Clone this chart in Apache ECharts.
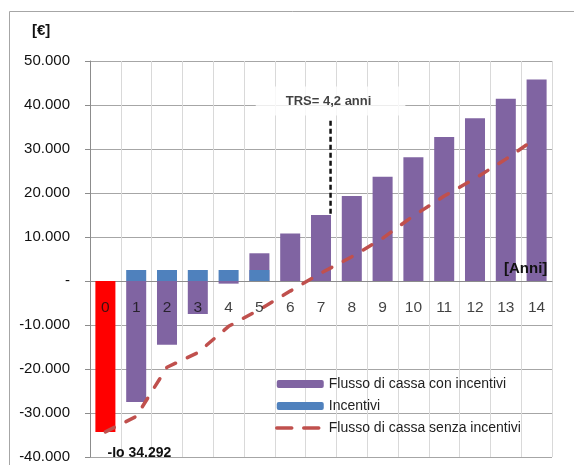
<!DOCTYPE html>
<html>
<head>
<meta charset="utf-8">
<script src="https://cdn.jsdelivr.net/npm/echarts@6/dist/echarts.min.js"></script>
<style>
  html, body { margin: 0; padding: 0; background: #fff; }
  #chart { width: 574px; height: 465px; }
</style>
</head>
<body>
<div id="chart"></div>
<script>
// anni
const anni = ['0', '1', '2', '3', '4', '5', '6', '7', '8', '9', '10', '11', '12', '13', '14'];
// flusso di cassa con incentivi (anno 0 = investimento iniziale)
const flussoConIncentivi = [-34292, -27500, -14500, -7500, -600, 6300, 10800, 15000, 19300, 23700, 28100, 32700, 37000, 41400, 45800];
// incentivi annui
const incentivi = [null, 2500, 2500, 2500, 2500, 2500, null, null, null, null, null, null, null, null, null];
// flusso di cassa senza incentivi
const flussoSenzaIncentivi = [-34292, -30800, -19600, -16300, -10300, -6500, -2300, 1800, 5500, 9700, 14800, 19300, 23300, 27700, 32500];
// linea TRS (posizione sull'asse anni, valori in euro)
const trsX = 7.31;
const trsY = [15300, 36600];
const trsLabel = 'TRS= 4,2 anni';
const ioLabel = '-Io 34.292';

const FONT = 'Liberation Sans';

function fmt(v) {
  if (v === 0) return '-';
  const s = Math.abs(v).toString().replace(/\B(?=(\d{3})+(?!\d))/g, '.');
  return (v < 0 ? '-' : '') + s;
}

const chart = echarts.init(document.getElementById('chart'));

const barData = flussoConIncentivi.map((v, i) => {
  if (i === 0) {
    return {
      value: v,
      itemStyle: {color: '#ff0000'},
      label: {
        show: true,
        position: 'bottom',
        distance: 14,
        offset: [34, 0],
        formatter: ioLabel,
        fontFamily: FONT,
        fontSize: 14,
        fontWeight: 'bold',
        color: '#111'
      }
    };
  }
  return v;
});

chart.setOption({
  animation: false,
  textStyle: {fontFamily: FONT},
  grid: {left: 90, right: 22, top: 61, bottom: 8, containLabel: false, outerBoundsMode: 'none'},
  graphic: [
    {type: 'rect', shape: {x: 9.5, y: 11.5, width: 580, height: 470}, style: {fill: 'none', stroke: '#a6a6a6', lineWidth: 1}, silent: true},
    {type: 'text', left: 32, top: 23, style: {text: '[€]', font: 'bold 15px ' + FONT, fill: '#111'}},
    {type: 'text', left: 504, top: 261, z: 20, style: {text: '[Anni]', font: 'bold 15px ' + FONT, fill: '#111'}}
  ],
  legend: {
    orient: 'vertical',
    left: 270,
    top: 372,
    itemWidth: 47,
    itemHeight: 8,
    itemGap: 8,
    textStyle: {fontFamily: FONT, fontSize: 14, color: '#222'},
    data: [
      'Flusso di cassa con incentivi',
      'Incentivi',
      {
        name: 'Flusso di cassa senza incentivi',
        itemStyle: {color: 'rgba(0,0,0,0)', opacity: 0, borderWidth: 0},
        lineStyle: {color: '#c0504d', width: 3.5, type: [15, 12]}
      }
    ]
  },
  xAxis: [
    {
      type: 'category',
      data: anni,
      position: 'bottom',
      axisLine: {onZero: true, lineStyle: {color: '#8c8c8c', width: 1}},
      axisTick: {show: false},
      axisLabel: {show: false},
      splitLine: {show: false}
    },
    {
      // asse di servizio: linee verticali della griglia e posizione della linea TRS
      type: 'value',
      min: -0.5,
      max: 14.5,
      interval: 1,
      position: 'bottom',
      axisLine: {show: false, onZero: false},
      axisTick: {show: false},
      axisLabel: {show: false},
      splitLine: {show: true, lineStyle: {color: '#d9d9d9', width: 1}}
    }
  ],
  yAxis: {
    type: 'value',
    min: -40000,
    max: 50000,
    interval: 10000,
    axisLine: {show: true, onZero: false, lineStyle: {color: '#8c8c8c', width: 1}},
    axisTick: {show: true, length: 5, lineStyle: {color: '#8c8c8c'}},
    axisLabel: {formatter: fmt, fontSize: 15, color: '#111', margin: 20, fontFamily: FONT},
    splitLine: {show: true, lineStyle: {color: '#a6a6a6', width: 1}}
  },
  series: [
    {
      name: 'Flusso di cassa con incentivi',
      type: 'bar',
      xAxisIndex: 0,
      barWidth: '65%',
      barGap: '-100%',
      itemStyle: {color: '#8064a2'},
      data: barData
    },
    {
      name: 'Incentivi',
      type: 'bar',
      xAxisIndex: 0,
      barWidth: '65%',
      barGap: '-100%',
      itemStyle: {color: '#4f81bd'},
      data: incentivi
    },
    {
      name: 'Flusso di cassa senza incentivi',
      type: 'line',
      xAxisIndex: 0,
      symbol: 'none',
      z: 5,
      lineStyle: {color: '#c0504d', width: 3.5, type: [10, 13], cap: 'round'},
      itemStyle: {color: '#c0504d'},
      data: flussoSenzaIncentivi
    },
    {
      // etichette degli anni sotto la linea dello zero
      type: 'scatter',
      xAxisIndex: 0,
      symbolSize: 1,
      z: 8,
      silent: true,
      itemStyle: {color: 'rgba(0,0,0,0)'},
      label: {
        show: true,
        position: 'bottom',
        distance: 18,
        formatter: p => anni[p.dataIndex],
        fontFamily: FONT,
        fontSize: 15.5,
        color: '#111'
      },
      data: anni.map(() => 0)
    },
    {
      type: 'line',
      xAxisIndex: 1,
      symbol: 'none',
      z: 6,
      lineStyle: {color: '#111', width: 2.5, type: [5, 3]},
      data: trsY.map(v => [trsX, v])
    },
    {
      type: 'scatter',
      xAxisIndex: 1,
      symbolSize: 1,
      z: 7,
      itemStyle: {color: 'rgba(0,0,0,0)'},
      label: {
        show: true,
        position: 'top',
        distance: 4,
        formatter: trsLabel,
        backgroundColor: '#fff',
        padding: [8, 34, 8, 30],
        fontFamily: FONT,
        fontSize: 13,
        fontWeight: 'bold',
        color: '#111'
      },
      data: [[trsX, trsY[1]]]
    }
  ]
});
</script>
</body>
</html>
